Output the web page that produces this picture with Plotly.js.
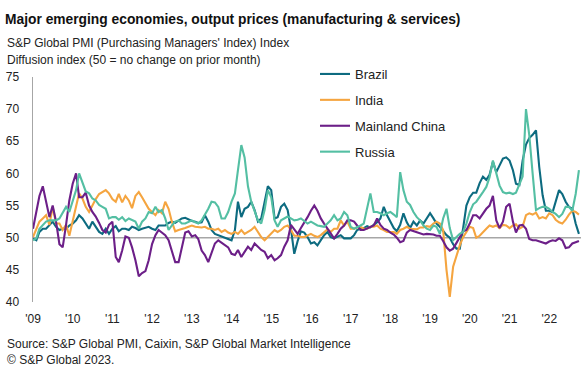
<!DOCTYPE html>
<html>
<head>
<meta charset="utf-8">
<script src="https://cdn.plot.ly/plotly-3.0.1.min.js"></script>
<style>
  html, body { margin: 0; padding: 0; background: #fff; }
  #chart { width: 586px; height: 371px; }
</style>
</head>
<body>
<div id="chart"></div>
<script>
// Monthly series, Jan 2009 onwards
const startYear = 2009;

const brazil = [
  49.9, 49.6, 50.9, 51.4, 51.4, 51.9, 52.5, 51.7, 51.2, 51.4, 51.4, 51.9,
  52.2, 52.7, 53.5, 53.0, 52.2, 51.4, 52.5, 51.7, 50.9, 50.6, 51.4, 50.6,
  51.4, 51.8, 51.0, 51.4, 51.4, 51.2, 51.7, 51.5, 51.2, 51.4, 51.5, 51.7,
  51.4, 51.2, 51.9, 51.9, 51.9, 52.3, 52.5, 52.3, 52.7, 53.0, 53.1, 52.8,
  52.6, 52.5, 52.3, 52.4, 53.5, 52.5, 51.2, 50.6, 50.4, 50.3, 50.1, 49.8,
  49.6, 51.2, 55.6, 53.2, 54.5, 54.8, 55.6, 54.3, 52.5, 53.0, 55.3, 58.0,
  57.4, 53.0, 53.2, 54.8, 55.3, 54.3, 51.4, 47.5, 49.5, 51.0, 50.8, 50.1,
  49.1, 49.3, 48.8, 49.6, 50.4, 50.9, 50.1, 49.9, 50.1, 50.4, 49.9, 49.9,
  49.9, 50.4, 51.2, 51.4, 51.5, 51.8, 51.6, 52.0, 52.4, 53.0, 54.8, 53.5,
  52.4, 51.5, 51.0, 52.0, 53.8, 52.4, 51.5, 52.5, 51.9, 52.7, 52.2, 53.0,
  53.8, 53.0, 52.2, 51.7, 51.0, 50.4, 50.0, 49.0, 48.3, 48.3, 51.5, 55.0,
  56.3, 57.0, 57.0, 58.5, 59.5, 59.0, 59.8, 61.8, 60.2, 61.2, 62.3, 62.5,
  62.0, 60.5, 58.4, 58.2, 62.0, 64.5, 65.5, 66.0, 66.7, 61.0, 56.6, 54.2,
  54.2, 54.0, 55.8, 57.4, 56.8, 55.6, 54.8, 54.5, 52.2, 50.6
];

const india = [
  50.1, 51.5, 52.5, 53.0, 53.5, 52.0, 54.8, 52.2, 52.2, 51.2, 52.0, 50.3,
  52.5, 55.0, 56.9, 56.1, 54.8, 54.0, 55.0, 56.0, 56.8, 57.1, 57.4, 56.9,
  56.0, 55.6, 56.8, 55.5, 56.5, 55.8, 54.6, 56.5, 57.1, 56.3, 55.3, 54.5,
  54.0, 53.5, 54.3, 53.8, 55.6, 54.5, 52.5, 51.0, 51.2, 51.3, 51.5, 51.7,
  51.9, 51.7, 51.6, 51.6, 51.7, 51.4, 51.4, 51.2, 51.4, 50.9, 51.2, 50.8,
  50.6, 50.9, 50.6, 51.2, 50.6, 50.9, 51.2, 51.7, 50.9, 50.1, 49.6, 50.1,
  50.6, 51.2, 50.9, 51.2, 51.7, 51.9, 51.2, 50.3, 50.3, 50.1, 50.1, 50.3,
  50.6, 50.3, 50.1, 50.4, 50.8, 51.3, 50.9, 51.4, 51.4, 52.7, 51.9, 52.5,
  51.4, 51.4, 51.6, 51.7, 51.4, 51.4, 51.7, 51.7, 51.9, 51.4, 51.2, 50.9,
  50.9, 50.9, 50.6, 51.2, 51.4, 51.7, 51.4, 51.3, 51.3, 51.6, 51.6, 51.8,
  51.7, 52.2, 52.5, 52.2, 51.2, 45.0, 40.8, 45.5, 47.3, 48.8, 50.1, 51.0,
  51.7, 51.5, 50.0, 50.3, 50.9, 51.4, 51.9, 51.7, 51.9, 51.5, 52.0, 51.9,
  51.5, 51.9, 52.1, 51.4, 51.7, 53.5, 53.8, 53.6, 53.9, 53.0, 53.2, 53.0,
  53.8, 53.5, 52.8, 52.4, 52.2, 52.8, 53.6, 54.2, 54.0, 53.6
];

const china = [
  51.4, 54.0, 56.5, 58.0, 55.5, 53.2, 55.0, 52.5, 49.0, 48.5, 52.0, 55.8,
  58.4, 60.0, 56.3, 56.3, 57.0, 55.0, 54.0, 53.3, 52.3, 51.2, 50.8, 52.0,
  52.5, 47.0, 46.2, 48.0, 50.2, 50.0, 48.5, 46.5, 44.0, 44.5, 44.8, 46.5,
  49.0, 50.4, 51.2, 50.8, 50.4, 49.6, 47.8, 46.2, 46.2, 48.5, 50.8, 51.0,
  50.2, 50.4, 49.8, 48.0, 47.3, 46.2, 47.5, 49.1, 49.6, 49.2, 48.8, 48.5,
  47.5, 47.3, 48.1, 47.0, 47.8, 48.6, 48.1, 49.1, 48.6, 48.1, 47.8, 46.8,
  47.3, 46.5, 46.8, 47.3, 48.6, 49.6, 52.0, 51.3, 50.6, 51.5, 52.3, 53.2,
  54.2, 55.0, 54.2, 53.0, 52.2, 51.4, 50.6, 49.9, 50.6, 51.4, 51.9, 52.7,
  52.7, 52.5, 51.9, 51.2, 51.2, 51.4, 51.7, 51.9, 53.0, 52.0, 51.4, 51.2,
  50.8, 50.5, 50.0, 49.3, 49.5, 50.8, 51.2, 51.0, 50.9, 50.7, 50.5, 50.6,
  50.6, 50.5, 50.3, 50.3, 49.5, 48.5, 48.0, 48.3, 49.2, 50.2, 51.0, 51.2,
  52.2, 53.5, 53.5, 53.0, 53.8, 54.5, 55.0, 56.5, 52.7, 51.5, 52.5, 54.8,
  55.3, 52.5, 50.8, 51.9, 52.0, 51.4, 49.8, 49.6, 49.6, 49.4, 49.2, 49.1,
  49.4, 49.6, 49.5, 49.9, 49.6, 48.4, 48.5, 49.1, 49.3, 49.5
];

const russia = [
  49.6, 49.9, 51.4, 51.9, 52.5, 52.7, 52.7, 52.7, 53.0, 54.0, 54.8, 54.0,
  55.6, 57.4, 60.0, 58.5, 57.2, 56.9, 56.1, 55.8, 55.1, 54.8, 54.5, 53.0,
  53.2, 53.2, 52.8, 53.2, 52.6, 53.0, 52.7, 52.5, 51.4, 52.5, 53.0, 54.0,
  53.8, 54.8, 54.0, 54.3, 53.0, 51.2, 51.9, 52.5, 52.7, 52.2, 52.2, 52.5,
  52.7, 52.4, 52.2, 52.7, 53.5, 54.5, 55.6, 55.5, 54.8, 53.0, 53.0, 54.0,
  55.6, 56.9, 60.5, 64.4, 62.5, 58.0, 55.6, 54.3, 52.7, 52.2, 54.3, 57.4,
  56.3, 52.7, 51.7, 52.7, 53.0, 53.3, 53.0, 52.7, 52.8, 53.0, 52.6, 52.2,
  52.5, 52.2, 51.9, 51.8, 51.7, 52.2, 52.7, 53.5, 52.7, 53.0, 54.0, 53.5,
  51.7, 51.4, 51.7, 51.9, 52.2, 54.8, 56.9, 54.0, 54.0, 53.8, 53.5, 53.8,
  54.0, 53.6, 53.2, 60.2, 57.4, 55.6, 55.1, 54.0, 53.2, 52.7, 51.9, 51.4,
  51.2, 51.9, 51.7, 50.6, 53.0, 54.5, 51.5, 49.6, 50.1, 50.6, 50.9, 52.2,
  54.0, 55.2, 55.6, 56.3, 57.1, 57.9, 59.4, 62.0, 60.0, 58.1, 57.1, 56.9,
  57.0, 56.8, 57.0, 58.3, 59.5, 70.0, 66.0, 60.0, 54.3, 54.6, 54.8, 54.8,
  54.5, 54.0, 53.7, 53.2, 53.7, 54.8, 54.8, 54.2, 56.8, 60.5
];

const seriesNames = ['Brazil', 'India', 'Mainland China', 'Russia'];
const seriesColors = ['#0d6b80', '#f5a540', '#6c1f88', '#54bfa3'];
const tickYears = [2009, 2010, 2011, 2012, 2013, 2014, 2015, 2016, 2017, 2018, 2019, 2020, 2021, 2022];
const tickLabels = ["'09", "'10", "'11", "'12", "'13", "'14", "'15", "'16", "'17", "'18", "'19", "'20", "'21", "'22"];

function monthDates(n) {
  const out = [];
  for (let i = 0; i < n; i++) {
    const y = startYear + Math.floor(i / 12);
    const m = (i % 12) + 1;
    out.push(y + '-' + (m < 10 ? '0' + m : m) + '-01');
  }
  return out;
}

const allSeries = [brazil, india, china, russia];
const font = 'Liberation Sans, Arial, sans-serif';

const traces = allSeries.map((vals, k) => ({
  type: 'scatter',
  mode: 'lines',
  name: seriesNames[k],
  legendgroup: 'g' + k,
  x: monthDates(vals.length),
  y: vals,
  line: { color: seriesColors[k], width: 2.1 },
  hoverinfo: 'skip'
}));

const W = 586, H = 371;
const mL = 33, mR = 5, mT = 77, mB = 69;
const plotW = W - mL - mR, plotH = H - mT - mB;
const px = x => (x - mL) / plotW;
const py = y => (H - mB - y) / plotH;

const layout = {
  width: W, height: H,
  margin: { l: mL, r: mR, t: mT, b: mB, pad: 0 },
  paper_bgcolor: '#ffffff',
  plot_bgcolor: '#ffffff',
  font: { family: font, size: 12, color: '#222' },
  title: {
    text: '<b>Major emerging economies, output prices (manufacturing &amp; services)</b>',
    font: { family: font, size: 13.8, color: '#111' },
    x: 5 / W, xref: 'container', xanchor: 'left',
    y: 1 - 19 / H, yref: 'container', yanchor: 'middle'
  },
  xaxis: {
    type: 'date',
    range: ['2009-01-01', '2022-10-20'],
    tickvals: tickYears.map(y => y + '-01-01'),
    ticktext: tickLabels,
    showgrid: false, zeroline: false, showline: false,
    ticks: '',
    ticklabelstandoff: 8,
    tickfont: { family: font, size: 12, color: '#222' },
    fixedrange: true
  },
  yaxis: {
    range: [40, 75],
    tick0: 40, dtick: 5,
    showgrid: false, zeroline: false,
    showline: true, linecolor: '#a6a6a6', linewidth: 1.5,
    ticks: '',
    ticklabelstandoff: 10,
    tickfont: { family: font, size: 12, color: '#222' },
    fixedrange: true
  },
  shapes: [{
    type: 'line', xref: 'paper', x0: 0, x1: 1, yref: 'y', y0: 50, y1: 50,
    line: { color: '#a6a6a6', width: 1.5 }, layer: 'below'
  }],
  legend: {
    x: px(315), y: py(59), xanchor: 'left', yanchor: 'top',
    bgcolor: 'rgba(0,0,0,0)', borderwidth: 0,
    font: { family: font, size: 13, color: '#222' },
    tracegroupgap: 6
  },
  showlegend: true,
  annotations: [
    { text: "S&amp;P Global PMI (Purchasing Managers' Index) Index", x: px(5), y: py(42.5) },
    { text: 'Diffusion index (50 = no change on prior month)', x: px(5), y: py(59.5) },
    { text: 'Source: S&amp;P Global PMI, Caixin, S&amp;P Global Market Intelligence', x: px(5), y: py(344) },
    { text: '© S&amp;P Global 2023.', x: px(5), y: py(360) }
  ].map(a => Object.assign({
    xref: 'paper', yref: 'paper', xanchor: 'left', yanchor: 'middle',
    showarrow: false, align: 'left',
    font: { family: font, size: 12, color: '#222' }
  }, a))
};

Plotly.newPlot('chart', traces, layout, { displayModeBar: false, staticPlot: true });
</script>
</body>
</html>
